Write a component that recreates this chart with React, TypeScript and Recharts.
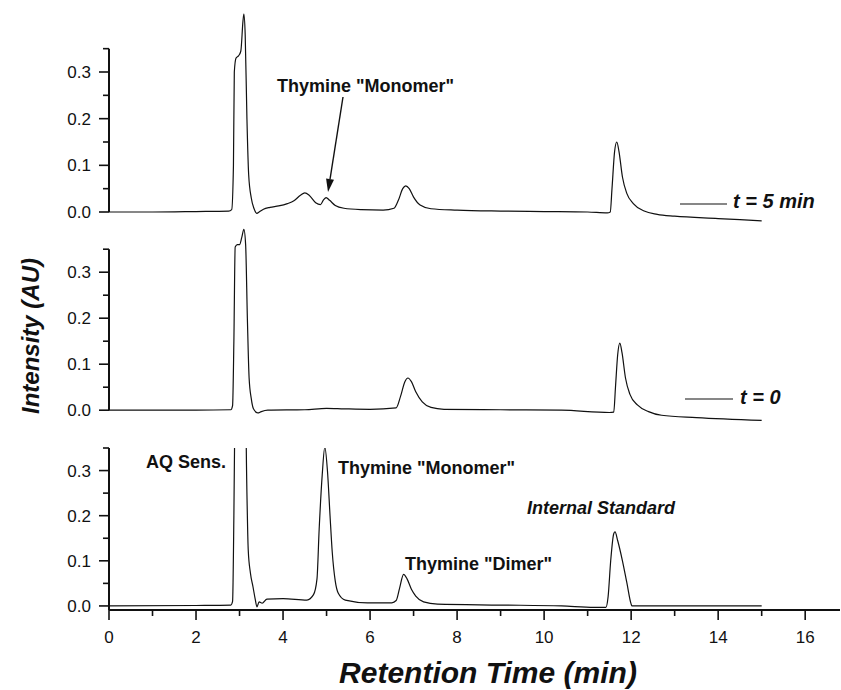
import React from "react";
import { LineChart, Line, XAxis, YAxis, ReferenceLine } from "recharts";

// retention time (min) and absorbance (AU)
const timeT5 = [0, 1, 2, 2.75, 2.82, 2.86, 2.88, 2.92, 2.98, 3.03, 3.08, 3.1, 3.13, 3.17, 3.21, 3.27, 3.33, 3.4, 3.45, 3.55, 3.7, 3.9, 4.1, 4.25, 4.4, 4.5, 4.6, 4.75, 4.86, 4.93, 4.99, 5.07, 5.2, 5.4, 5.8, 6.3, 6.55, 6.65, 6.75, 6.82, 6.9, 7.0, 7.15, 7.4, 8, 9, 10, 11, 11.45, 11.52, 11.56, 11.62, 11.67, 11.72, 11.8, 11.9, 12.05, 12.3, 12.6, 13, 14, 15];
const absT5 = [0, 0, 0.001, 0.002, 0.005, 0.1, 0.3, 0.33, 0.335, 0.345, 0.41, 0.424, 0.38, 0.2, 0.08, 0.03, 0.008, -0.003, 0, 0.006, 0.01, 0.013, 0.018, 0.024, 0.036, 0.041, 0.036, 0.02, 0.016, 0.026, 0.031, 0.025, 0.014, 0.008, 0.005, 0.004, 0.008, 0.025, 0.05, 0.056, 0.05, 0.032, 0.015, 0.007, 0.004, 0.002, 0.001, 0, -0.002, 0, 0.05, 0.13, 0.15, 0.13, 0.075, 0.04, 0.018, 0.002, -0.005, -0.009, -0.014, -0.019];

const timeT0 = [0, 2, 2.8, 2.84, 2.87, 2.9, 2.95, 3.0, 3.05, 3.1, 3.14, 3.18, 3.22, 3.27, 3.32, 3.42, 3.5, 3.65, 4.5, 5.0, 5.4, 6.0, 6.6, 6.7, 6.8, 6.87, 6.95, 7.05, 7.2, 7.4, 7.7, 9, 10.4, 11.5, 11.6, 11.64, 11.69, 11.74, 11.79, 11.87, 11.97, 12.15, 12.4, 12.7, 13.5, 15];
const absT0 = [0, 0, 0.001, 0.01, 0.15, 0.355, 0.36, 0.36, 0.375, 0.393, 0.36, 0.2, 0.07, 0.025, 0.003, -0.006, -0.003, 0, 0.001, 0.004, 0.003, 0.002, 0.005, 0.03, 0.062, 0.07, 0.062, 0.04, 0.018, 0.006, 0.002, 0.001, 0, -0.005, -0.004, 0.05, 0.12, 0.146, 0.125, 0.07, 0.035, 0.011, -0.003, -0.011, -0.016, -0.022];

const timeStd = [0, 2, 2.8, 2.84, 2.87, 2.9, 3.0, 3.12, 3.15, 3.18, 3.2, 3.25, 3.31, 3.36, 3.4, 3.45, 3.52, 3.63, 4.0, 4.55, 4.7, 4.78, 4.83, 4.9, 4.96, 5.02, 5.08, 5.13, 5.2, 5.27, 5.43, 5.94, 6.5, 6.6, 6.68, 6.77, 6.85, 6.95, 7.05, 7.23, 7.55, 9, 10.4, 11.15, 11.42, 11.47, 11.53, 11.6, 11.63, 11.69, 11.8, 11.9, 12.0, 12.02, 15];
const absStd = [0, 0.001, 0.002, 0.01, 0.2, 0.5, 0.9, 0.9, 0.4, 0.2, 0.124, 0.073, 0.042, 0.015, -0.002, 0.009, 0.006, 0.015, 0.016, 0.013, 0.025, 0.06, 0.17, 0.29, 0.352, 0.3, 0.2, 0.12, 0.055, 0.028, 0.013, 0.007, 0.007, 0.012, 0.04, 0.07, 0.06, 0.037, 0.022, 0.009, 0.004, 0.002, 0, -0.003, -0.003, 0.02, 0.1, 0.16, 0.164, 0.145, 0.1, 0.052, 0.004, 0, 0];

const xTicks = [0, 1, 2, 3, 4, 5, 6, 7, 8, 9, 10, 11, 12, 13, 14, 15, 16];
const yTicks = [0, 0.05, 0.1, 0.15, 0.2, 0.25, 0.3, 0.35];

const FONT = '"Liberation Sans", Arial, Helvetica, sans-serif';
const INK = "#111";

const toRows = (t: number[], v: number[]) => t.map((x, i) => ({ t: x, v: v[i] }));

function YTick(props: any) {
  const { x, y, payload } = props;
  const v = payload.value;
  const major = Math.round(v * 100) % 10 === 0;
  return (
    <g>
      <line x1={x} x2={x - (major ? 10 : 6)} y1={y} y2={y} stroke={INK} strokeWidth={1.6} />
      {major && (
        <text x={x - 18} y={y} dy="0.36em" textAnchor="end" fontSize={17} fill={INK} fontFamily={FONT}>
          {v.toFixed(1)}
        </text>
      )}
    </g>
  );
}

function XTick(props: any) {
  const { x, y, payload } = props;
  const v = payload.value;
  const major = v % 2 === 0;
  return (
    <g>
      <line x1={x} x2={x} y1={y} y2={y + (major ? 10 : 6)} stroke={INK} strokeWidth={1.6} />
      {major && (
        <text x={x} y={y + 33} textAnchor="middle" fontSize={17} fill={INK} fontFamily={FONT}>
          {v}
        </text>
      )}
    </g>
  );
}

type PanelProps = {
  rows: { t: number; v: number }[];
  top: number;
  height: number;
  margin: { top: number; right: number; bottom: number; left: number };
  domain: [number, number];
  bottomAxis?: boolean;
};

function Panel({ rows, top, height, margin, domain, bottomAxis }: PanelProps) {
  return (
    <div style={{ position: "absolute", left: 0, top }}>
      <LineChart width={841} height={height} data={rows} margin={margin}>
        <XAxis
          dataKey="t"
          type="number"
          domain={[0, 16.8]}
          ticks={xTicks}
          interval={0}
          hide={!bottomAxis}
          height={45}
          tickSize={0}
          tickMargin={0}
          tickLine={false}
          axisLine={{ stroke: INK, strokeWidth: 2 }}
          tick={<XTick />}
        />
        <YAxis
          type="number"
          domain={domain}
          ticks={yTicks}
          interval={0}
          width={60}
          tickSize={0}
          tickMargin={0}
          tickLine={false}
          allowDataOverflow={!!bottomAxis}
          axisLine={bottomAxis ? { stroke: INK, strokeWidth: 2 } : false}
          tick={<YTick />}
        />
        {!bottomAxis && (
          <ReferenceLine segment={[{ x: 0, y: 0 }, { x: 0, y: 0.35 }]} stroke={INK} strokeWidth={2} />
        )}
        <Line dataKey="v" type="monotone" stroke={INK} strokeWidth={1.2} dot={false} isAnimationActive={false} />
      </LineChart>
    </div>
  );
}

function Arrow({ x1, y1, x2, y2 }: { x1: number; y1: number; x2: number; y2: number }) {
  const dx = x2 - x1;
  const dy = y2 - y1;
  const len = Math.hypot(dx, dy);
  const ux = dx / len;
  const uy = dy / len;
  const bx = x2 - ux * 13;
  const by = y2 - uy * 13;
  const px = -uy * 4;
  const py = ux * 4;
  return (
    <g>
      <line x1={x1} y1={y1} x2={bx} y2={by} stroke={INK} strokeWidth={1.4} />
      <polygon points={`${x2},${y2} ${bx + px},${by + py} ${bx - px},${by - py}`} fill={INK} />
    </g>
  );
}

export default function App() {
  const label = { fontFamily: FONT, fontWeight: 700, fill: INK } as const;
  return (
    <div style={{ position: "absolute", left: 0, top: 0, width: 841, height: 690, background: "#fff" }}>
      <Panel rows={toRows(timeT5, absT5)} top={0} height={230} margin={{ top: 2, right: 1, bottom: 4, left: 49 }} domain={[-0.03, 0.45]} />
      <Panel rows={toRows(timeT0, absT0)} top={215} height={211} margin={{ top: 2, right: 1, bottom: 2, left: 49 }} domain={[-0.03, 0.42]} />
      <Panel rows={toRows(timeStd, absStd)} top={438} height={217} margin={{ top: 10, right: 1, bottom: 0, left: 49 }} domain={[-0.009, 0.35]} bottomAxis />

      <svg width={841} height={690} style={{ position: "absolute", left: 0, top: 0, pointerEvents: "none" }}>
        <text x={277} y={92} fontSize={18} {...label}>Thymine "Monomer"</text>
        <Arrow x1={343} y1={97} x2={328} y2={192} />

        <line x1={680} x2={727} y1={204} y2={204} stroke={INK} strokeWidth={1.2} />
        <text x={733} y={208} fontSize={20} fontStyle="italic" {...label}>t = 5 min</text>
        <line x1={685} x2={733} y1={399} y2={399} stroke={INK} strokeWidth={1.2} />
        <text x={740} y={404} fontSize={20} fontStyle="italic" {...label}>t = 0</text>

        <text x={146} y={468} fontSize={18} {...label}>AQ Sens.</text>
        <text x={338} y={474} fontSize={18} {...label}>Thymine "Monomer"</text>
        <text x={527} y={514} fontSize={18} fontStyle="italic" {...label}>Internal Standard</text>
        <text x={405} y={570} fontSize={18} {...label}>Thymine "Dimer"</text>

        <text x={488} y={683} fontSize={30} fontStyle="italic" textAnchor="middle" {...label}>Retention Time (min)</text>
        <text x={39} y={336} fontSize={24} fontStyle="italic" textAnchor="middle" transform="rotate(-90 39 336)" {...label}>Intensity (AU)</text>
      </svg>
    </div>
  );
}
